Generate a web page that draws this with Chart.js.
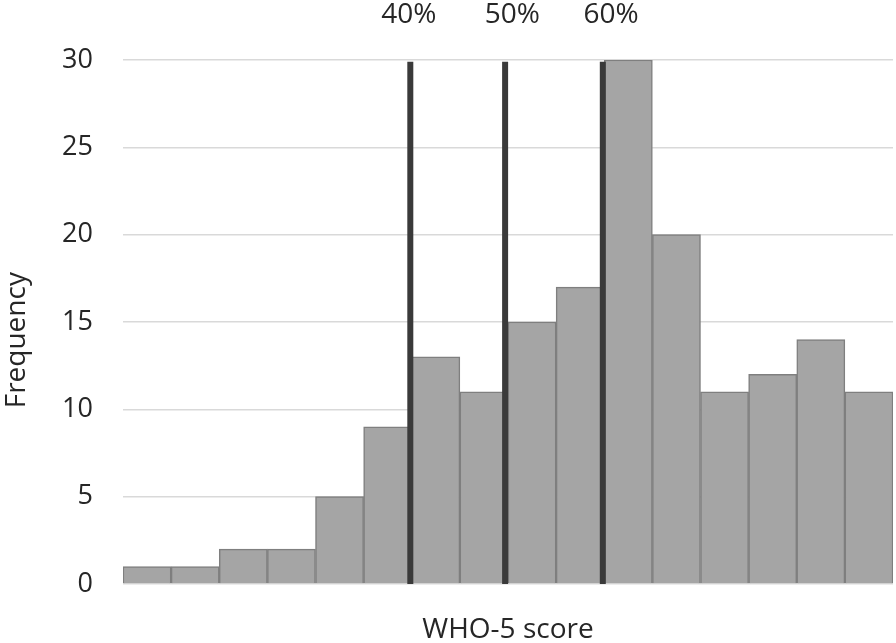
<!DOCTYPE html>
<html>
<head>
<meta charset="utf-8">
<script src="https://cdn.jsdelivr.net/npm/chart.js@4.4.0/dist/chart.umd.min.js"></script>
<style>
    html, body { margin: 0; padding: 0; background: #fff; }
    #wrap { width: 896px; height: 643px; }
</style>
</head>
<body>
<div id="wrap"><canvas id="whoChart"></canvas></div>
<script>
// histogram bins (16 bins of the WHO-5 score)
const bins = ['1', '2', '3', '4', '5', '6', '7', '8', '9', '10', '11', '12', '13', '14', '15', '16'];
const frequency = [1, 1, 2, 2, 5, 9, 13, 11, 15, 17, 30, 20, 11, 12, 14, 11];
const yTicks = [0, 5, 10, 15, 20, 25, 30];

// cut-off lines, placed at bin boundaries
const cutLabels = ['40%', '50%', '60%'];
const cutBoundary = [5.97, 7.94, 9.97];
const cutLabelAt = [5.94, 8.09, 10.14];
const cutTop = 29.9;

const fontFamily = "'Open Sans', 'Noto Sans', sans-serif";
const textColor = '#262626';

// draw the 40% / 50% / 60% text above each line
const cutLabelPlugin = {
    id: 'cutLabels',
    afterDraw(chart) {
        const ctx = chart.ctx;
        const xl = chart.scales.xl;
        ctx.save();
        ctx.font = '28px ' + fontFamily;
        ctx.fillStyle = textColor;
        ctx.textAlign = 'center';
        ctx.textBaseline = 'middle';
        for (let i = 0; i < cutLabels.length; i++) {
            ctx.fillText(cutLabels[i], xl.getPixelForValue(cutLabelAt[i]), 15);
        }
        ctx.restore();
    }
};

const cutDatasets = cutBoundary.map(b => ({
    type: 'line',
    xAxisID: 'xl',
    data: [{ x: b, y: 0 }, { x: b, y: cutTop }],
    borderColor: '#3a3a3a',
    borderWidth: 6,
    pointRadius: 0,
    order: 1
}));

const ctx = document.getElementById('whoChart').getContext('2d');
const chart = new Chart(ctx, {
    type: 'bar',
    data: {
        labels: bins,
        datasets: [{
            label: 'Frequency',
            data: frequency,
            backgroundColor: '#a5a5a5',
            borderColor: '#7f7f7f',
            borderWidth: 1.5,
            categoryPercentage: 1,
            barPercentage: 1,
            grouped: false,
            order: 2
        }, ...cutDatasets]
    },
    options: {
        responsive: true,
        maintainAspectRatio: false,
        animation: false,
        layout: { padding: { top: 60, right: 3, left: 0, bottom: 0 } },
        plugins: {
            legend: { display: false },
            tooltip: { enabled: false }
        },
        scales: {
            x: {
                grid: { display: false },
                border: { display: false },
                ticks: { display: false },
                title: {
                    display: true,
                    text: 'WHO-5 score',
                    color: textColor,
                    font: { family: fontFamily, size: 28 },
                    padding: { top: 0, bottom: -4 }
                },
                afterFit: (scale) => { scale.height = 59; }
            },
            xl: {
                type: 'linear',
                display: false,
                offset: false,
                min: 0,
                max: bins.length
            },
            y: {
                min: 0,
                max: 30,
                afterBuildTicks: (scale) => { scale.ticks = yTicks.map(v => ({ value: v })); },
                grid: { color: '#d9d9d9', lineWidth: 1.5, drawTicks: false },
                border: { display: false },
                ticks: {
                    color: textColor,
                    padding: 30,
                    font: { family: fontFamily, size: 27 }
                },
                title: {
                    display: true,
                    text: 'Frequency     ',
                    color: textColor,
                    font: { family: fontFamily, size: 28 },
                    padding: 0
                },
                afterFit: (scale) => { scale.width = 123; }
            }
        }
    },
    plugins: [cutLabelPlugin]
});
</script>
</body>
</html>
